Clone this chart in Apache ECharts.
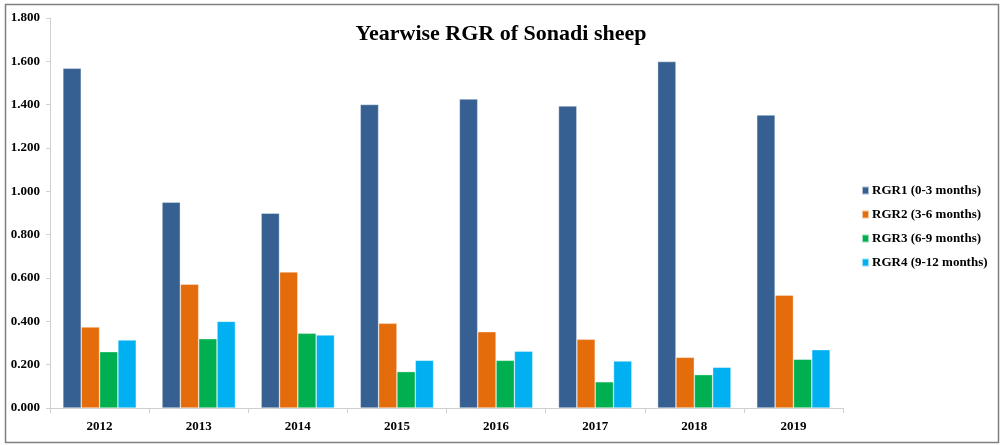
<!DOCTYPE html>
<html>
<head>
<meta charset="utf-8">
<script src="https://cdn.jsdelivr.net/npm/echarts@6/dist/echarts.min.js"></script>
<style>
  html, body { margin: 0; padding: 0; background: #fff; }
  #chart { width: 1002px; height: 445px; }
</style>
</head>
<body>
<div id="chart"></div>
<script>
var years = ['2012', '2013', '2014', '2015', '2016', '2017', '2018', '2019'];
var seriesNames = ['RGR1 (0-3 months)', 'RGR2 (3-6 months)', 'RGR3 (6-9 months)', 'RGR4 (9-12 months)'];
var rgr1 = [1.568, 0.950, 0.899, 1.401, 1.426, 1.394, 1.599, 1.352];
var rgr2 = [0.374, 0.571, 0.628, 0.391, 0.352, 0.317, 0.234, 0.521];
var rgr3 = [0.260, 0.320, 0.345, 0.168, 0.220, 0.121, 0.154, 0.225];
var rgr4 = [0.314, 0.400, 0.337, 0.220, 0.262, 0.217, 0.188, 0.269];
var colors = ['#376092', '#E46C0A', '#00B050', '#00B0F0'];

var font = '"Liberation Serif", "Times New Roman", serif';
var myChart = echarts.init(document.getElementById('chart'));

function makeSeries(name, data) {
    return {
        name: name,
        type: 'bar',
        barGap: '0%',
        barCategoryGap: '26%',
        itemStyle: { borderColor: 'rgba(255,255,255,0.6)', borderWidth: 0.6 },
        data: data
    };
}

var option = {
    color: colors,
    animation: false,
    title: {
        text: 'Yearwise RGR of Sonadi sheep',
        left: 'center',
        top: 18,
        textStyle: { fontFamily: font, fontSize: 22, fontWeight: 'bold', color: '#000' }
    },
    graphic: [{
        type: 'rect',
        shape: { x: 5.5, y: 4.5, width: 993, height: 438 },
        style: { fill: 'none', stroke: '#7f7f7f', lineWidth: 1.5 },
        silent: true
    }],
    legend: {
        orient: 'vertical',
        left: 856,
        top: 179,
        itemWidth: 7,
        itemHeight: 8,
        itemGap: 11,
        icon: 'rect',
        textStyle: { fontFamily: font, fontSize: 13, fontWeight: 'bold', color: '#000', padding: [0, 0, 0, -2] },
        data: seriesNames
    },
    grid: { left: 50, right: 159, top: 18, bottom: 37 },
    xAxis: {
        type: 'category',
        data: years,
        axisLine: { lineStyle: { color: '#d0d0d0', width: 1 } },
        axisTick: { show: true, length: 5, lineStyle: { color: '#d0d0d0' } },
        axisLabel: { fontFamily: font, fontSize: 13, fontWeight: 'bold', color: '#000', margin: 12 }
    },
    yAxis: {
        type: 'value',
        min: 0,
        max: 1.8,
        interval: 0.2,
        axisLine: { show: true, lineStyle: { color: '#d0d0d0', width: 1 } },
        axisTick: { show: true, length: 4, lineStyle: { color: '#d0d0d0' } },
        splitLine: { show: false },
        axisLabel: {
            fontFamily: font, fontSize: 13, fontWeight: 'bold', color: '#000', margin: 10,
            formatter: function (v) { return v.toFixed(3); }
        }
    },
    series: [
        makeSeries(seriesNames[0], rgr1),
        makeSeries(seriesNames[1], rgr2),
        makeSeries(seriesNames[2], rgr3),
        makeSeries(seriesNames[3], rgr4)
    ]
};
myChart.setOption(option);
</script>
</body>
</html>
